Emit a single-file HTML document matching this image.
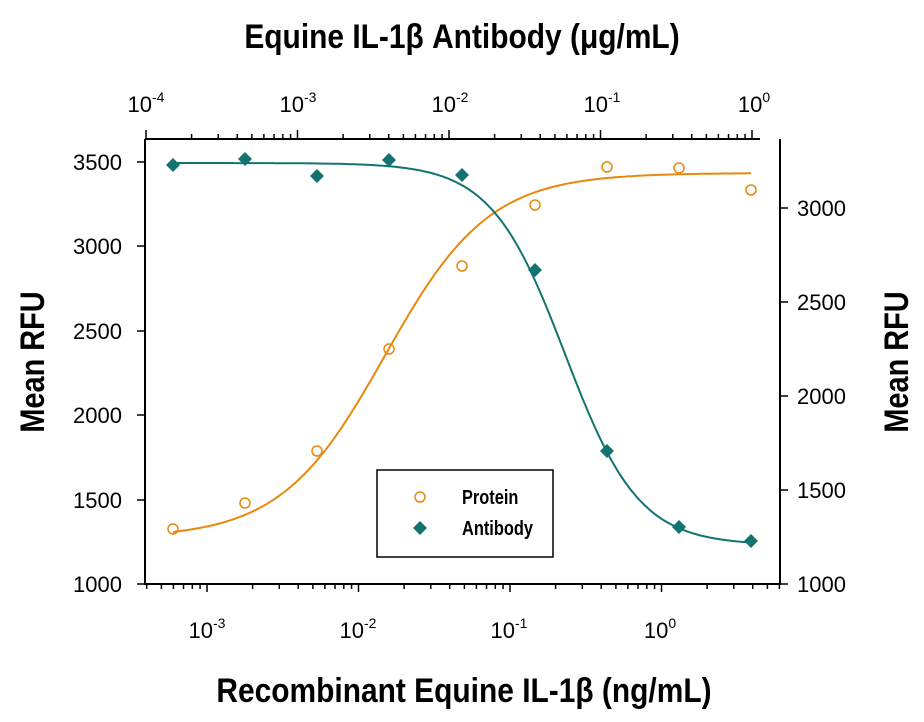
<!DOCTYPE html>
<html><head><style>body{margin:0;background:#fff}svg{display:block}text{font-family:"Liberation Sans",sans-serif}</style></head>
<body>
<svg id="s" width="924" height="722" viewBox="0 0 924 722">
<g stroke="#000" stroke-width="2" fill="none">
<polyline points="145,139 145,584 780,584 780,139"/>
<line x1="145" y1="139" x2="760" y2="139"/>
<rect x="377" y="470" width="176" height="87" stroke-width="1.5"/>
</g>
<g id="ticks" stroke="#000" stroke-width="1.5"></g>
<g font-size="22" text-anchor="end" fill="#000">
<text x="122" y="592">1000</text><text x="122" y="508">1500</text><text x="122" y="423">2000</text>
<text x="122" y="339">2500</text><text x="122" y="254">3000</text><text x="122" y="170">3500</text>
</g>
<g font-size="22" text-anchor="start" fill="#000">
<text x="797" y="592">1000</text><text x="797" y="498">1500</text><text x="797" y="404">2000</text>
<text x="797" y="310">2500</text><text x="797" y="216">3000</text>
</g>
<g font-size="22" text-anchor="middle" fill="#000" id="xl"></g>
<g font-weight="bold" font-size="34" text-anchor="middle" fill="#000">
<text x="462" y="48" transform="translate(462 0) scale(0.88 1) translate(-462 0)">Equine IL-1β Antibody (μg/mL)</text>
<text x="464" y="702" transform="translate(464 0) scale(0.88 1) translate(-464 0)">Recombinant Equine IL-1β (ng/mL)</text>
<text transform="translate(44 362) rotate(-90) scale(0.85 1)">Mean RFU</text>
<text transform="translate(908 362) rotate(-90) scale(0.85 1)">Mean RFU</text>
</g>
<path id="pc" fill="none" stroke="#e8890c" stroke-width="2"/>
<path id="ac" fill="none" stroke="#137370" stroke-width="2"/>
<g id="pts"></g>
<circle cx="420" cy="497" r="5" fill="none" stroke="#e8890c" stroke-width="1.5"/>
<path d="M420,521 l7,7 -7,7 -7,-7z" fill="#137370"/>
<g font-size="20" font-weight="bold"><text x="462" y="504" transform="translate(462 0) scale(0.82 1) translate(-462 0)">Protein</text><text x="462" y="535" transform="translate(462 0) scale(0.82 1) translate(-462 0)">Antibody</text></g>
</svg>
<script>
var ns="http://www.w3.org/2000/svg",t=document.getElementById('ticks'),xl=document.getElementById('xl');
function ln(a,b,c,d){var l=document.createElementNS(ns,'line');l.setAttribute('x1',a);l.setAttribute('y1',b);l.setAttribute('x2',c);l.setAttribute('y2',d);t.appendChild(l);}
function tx(x,y,b,e){var g=document.createElementNS(ns,'text');g.setAttribute('x',x);g.setAttribute('y',y);g.innerHTML=b+'<tspan font-size="14" dy="-10">'+e+'</tspan>';xl.appendChild(g);}
var D=151.5;
for(var k=-4;k<=0;k++){for(var m=1;m<10;m++){var x=207+(k+3)*D+Math.log10(m)*D;if(x<145||x>780)continue;ln(x,584,x,m==1?592:589);}}
tx(207,638,'10','-3');tx(358,638,'10','-2');tx(509,638,'10','-1');tx(660,638,'10','0');
for(var k=-4;k<=0;k++){for(var m=1;m<10;m++){var x=146+(k+4)*D+Math.log10(m)*D;if(x>755)continue;ln(x,139,x,m==1?130:134);}}
tx(146,112,'10','-4');tx(298,112,'10','-3');tx(450,112,'10','-2');tx(602,112,'10','-1');tx(754,112,'10','0');
[584,500,415,331,246,162].forEach(function(y){ln(137,y,145,y)});
[584,490,396,302,208].forEach(function(y){ln(780,y,788,y)});
function cur(id,a,b,x0,s){var d='';for(var x=173;x<=752;x+=2){var f=1/(1+Math.exp(-(x-x0)/s));d+=(x==173?'M':'L')+x+','+(a+(b-a)*f).toFixed(1);}document.getElementById(id).setAttribute('d',d);}
cur('pc',538,173,385,52);cur('ac',163,545,565,37);
var P=document.getElementById('pts'),xs=[173,245,317,389,462,535,607,679,751];
[529,503,451,349,266,205,167,168,190].forEach(function(y,i){var c=document.createElementNS(ns,'circle');c.setAttribute('cx',xs[i]);c.setAttribute('cy',y);c.setAttribute('r',5);c.setAttribute('fill','none');c.setAttribute('stroke','#e8890c');c.setAttribute('stroke-width',1.5);P.appendChild(c);});
[165,159,176,160,175,270,451,527,541].forEach(function(y,i){var c=document.createElementNS(ns,'path');c.setAttribute('d','M'+xs[i]+','+(y-7)+' l7,7 -7,7 -7,-7z');c.setAttribute('fill','#137370');P.appendChild(c);});
</script>
</body></html>
